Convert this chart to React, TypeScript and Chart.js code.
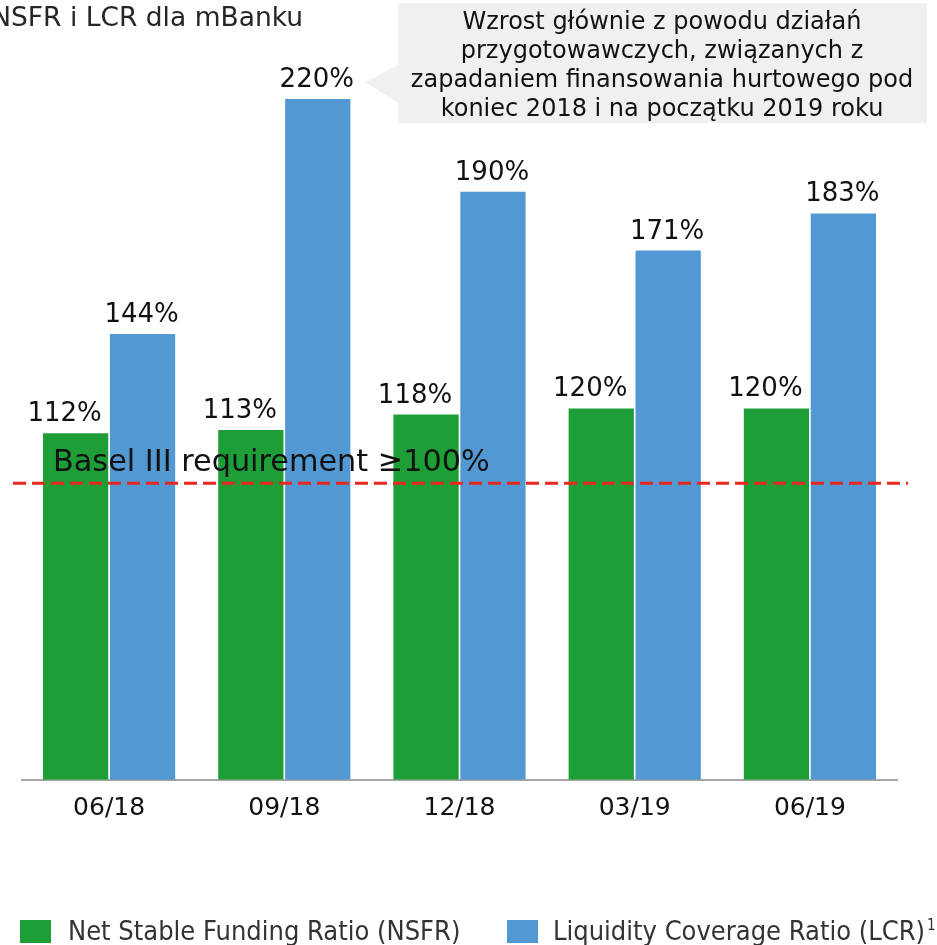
import React, { useEffect, useRef } from "react";
import { Chart, registerables } from "chart.js";

Chart.register(...registerables);

const categories = ["06/18", "09/18", "12/18", "03/19", "06/19"];
const nsfrValues = [112, 113, 118, 120, 120];
const lcrValues = [144, 220, 190, 171, 183];
const seriesLabels = ["Net Stable Funding Ratio (NSFR)", "Liquidity Coverage Ratio (LCR)"];
const seriesColors = ["#1d9e37", "#5299d4"];
const titleText = "NSFR i LCR dla mBanku";
const baselText = "Basel III requirement \u2265100%";
const baselLineValue = 95.8;
const calloutLines = [
  "Wzrost g\u0142\u00f3wnie z powodu dzia\u0142a\u0144",
  "przygotowawczych, zwi\u0105zanych z",
  "zapadaniem finansowania hurtowego pod",
  "koniec 2018 i na pocz\u0105tku 2019 roku",
];

const FONT = "'DejaVu Sans', Verdana, sans-serif";
const FONT_C = "'DejaVu Sans Condensed', 'DejaVu Sans', sans-serif";
const LABEL_SHIFT = [-11, -1];

const overlay = {
  id: "overlay",
  afterDatasetsDraw(chart: any) {
    const ctx = chart.ctx;
    const y = chart.scales.y;
    // value labels
    ctx.save();
    ctx.font = `26px ${FONT}`;
    ctx.fillStyle = "#111";
    ctx.textAlign = "center";
    ctx.textBaseline = "alphabetic";
    chart.data.datasets.forEach((ds: any, di: number) => {
      const meta = chart.getDatasetMeta(di);
      meta.data.forEach((bar: any, i: number) => {
        ctx.fillText(`${ds.data[i]}%`, bar.x + LABEL_SHIFT[di], bar.y - 12);
      });
    });
    ctx.restore();

    // Basel line
    const ly = y.getPixelForValue(baselLineValue);
    ctx.save();
    ctx.strokeStyle = "#e8281e";
    ctx.lineWidth = 3;
    ctx.setLineDash([13, 6]);
    ctx.beginPath();
    ctx.moveTo(13, ly);
    ctx.lineTo(908, ly);
    ctx.stroke();
    ctx.restore();

    ctx.save();
    ctx.font = `30.3px ${FONT}`;
    ctx.fillStyle = "#111";
    ctx.textAlign = "left";
    ctx.textBaseline = "alphabetic";
    ctx.fillText(baselText, 53, ly - 12);
    ctx.restore();
  },
  afterDraw(chart: any) {
    const ctx = chart.ctx;
    // title
    ctx.save();
    ctx.font = `26.5px ${FONT}`;
    ctx.fillStyle = "#262626";
    ctx.textAlign = "right";
    ctx.textBaseline = "alphabetic";
    ctx.fillText(titleText, 303, 26);
    ctx.restore();

    // callout
    ctx.save();
    ctx.fillStyle = "#f0f0f0";
    ctx.beginPath();
    ctx.moveTo(398, 3);
    ctx.lineTo(927, 3);
    ctx.lineTo(927, 123);
    ctx.lineTo(398, 123);
    ctx.lineTo(398, 103);
    ctx.lineTo(365, 82);
    ctx.lineTo(398, 65);
    ctx.closePath();
    ctx.fill();
    ctx.font = `24px ${FONT}`;
    ctx.fillStyle = "#111";
    ctx.textAlign = "center";
    ctx.textBaseline = "alphabetic";
    calloutLines.forEach((l, i) => ctx.fillText(l, 662, 28.5 + i * 29.2));
    ctx.restore();

    // legend
    ctx.save();
    const items = [
      { sx: 20, tx: 68 },
      { sx: 507, tx: 553 },
    ];
    items.forEach((it, i) => {
      ctx.fillStyle = seriesColors[i];
      ctx.fillRect(it.sx, 920, 31, 23);
      ctx.fillStyle = "#333";
      ctx.font = `27px ${FONT_C}`;
      ctx.textAlign = "left";
      ctx.textBaseline = "alphabetic";
      ctx.fillText(seriesLabels[i], it.tx, 940);
      if (i === 1) {
        const w = ctx.measureText(seriesLabels[i]).width;
        ctx.font = `15px ${FONT_C}`;
        ctx.fillText("1", it.tx + w + 2, 930);
      }
    });
    ctx.restore();
  },
};

export default function App() {
  const ref = useRef<HTMLCanvasElement>(null);
  useEffect(() => {
    if (!ref.current) return;
    const chart = new Chart(ref.current, {
      type: "bar",
      data: {
        labels: categories,
        datasets: [
          { label: seriesLabels[0], data: nsfrValues, backgroundColor: seriesColors[0], categoryPercentage: 0.764, barPercentage: 0.975 },
          { label: seriesLabels[1], data: lcrValues, backgroundColor: seriesColors[1], categoryPercentage: 0.764, barPercentage: 0.975 },
        ],
      },
      options: {
        responsive: false,
        animation: false,
        layout: { padding: { left: 21.5, right: 39.5, top: 37, bottom: 107.2 } },
        plugins: { legend: { display: false }, title: { display: false }, tooltip: { enabled: false } },
        scales: {
          x: {
            grid: { display: false, drawTicks: false },
            border: { display: true, color: "#a6a6a6", width: 2 },
            ticks: { color: "#111", font: { family: FONT, size: 25 }, padding: 14 },
          },
          y: { display: false, min: 0, max: 240 },
        },
      },
      plugins: [overlay],
    });
    return () => chart.destroy();
  }, []);
  return (
    <div style={{ position: "fixed", left: 0, top: 0, width: 937, height: 945, background: "#fff" }}>
      <canvas ref={ref} width={937} height={945} style={{ display: "block" }} />
    </div>
  );
}
